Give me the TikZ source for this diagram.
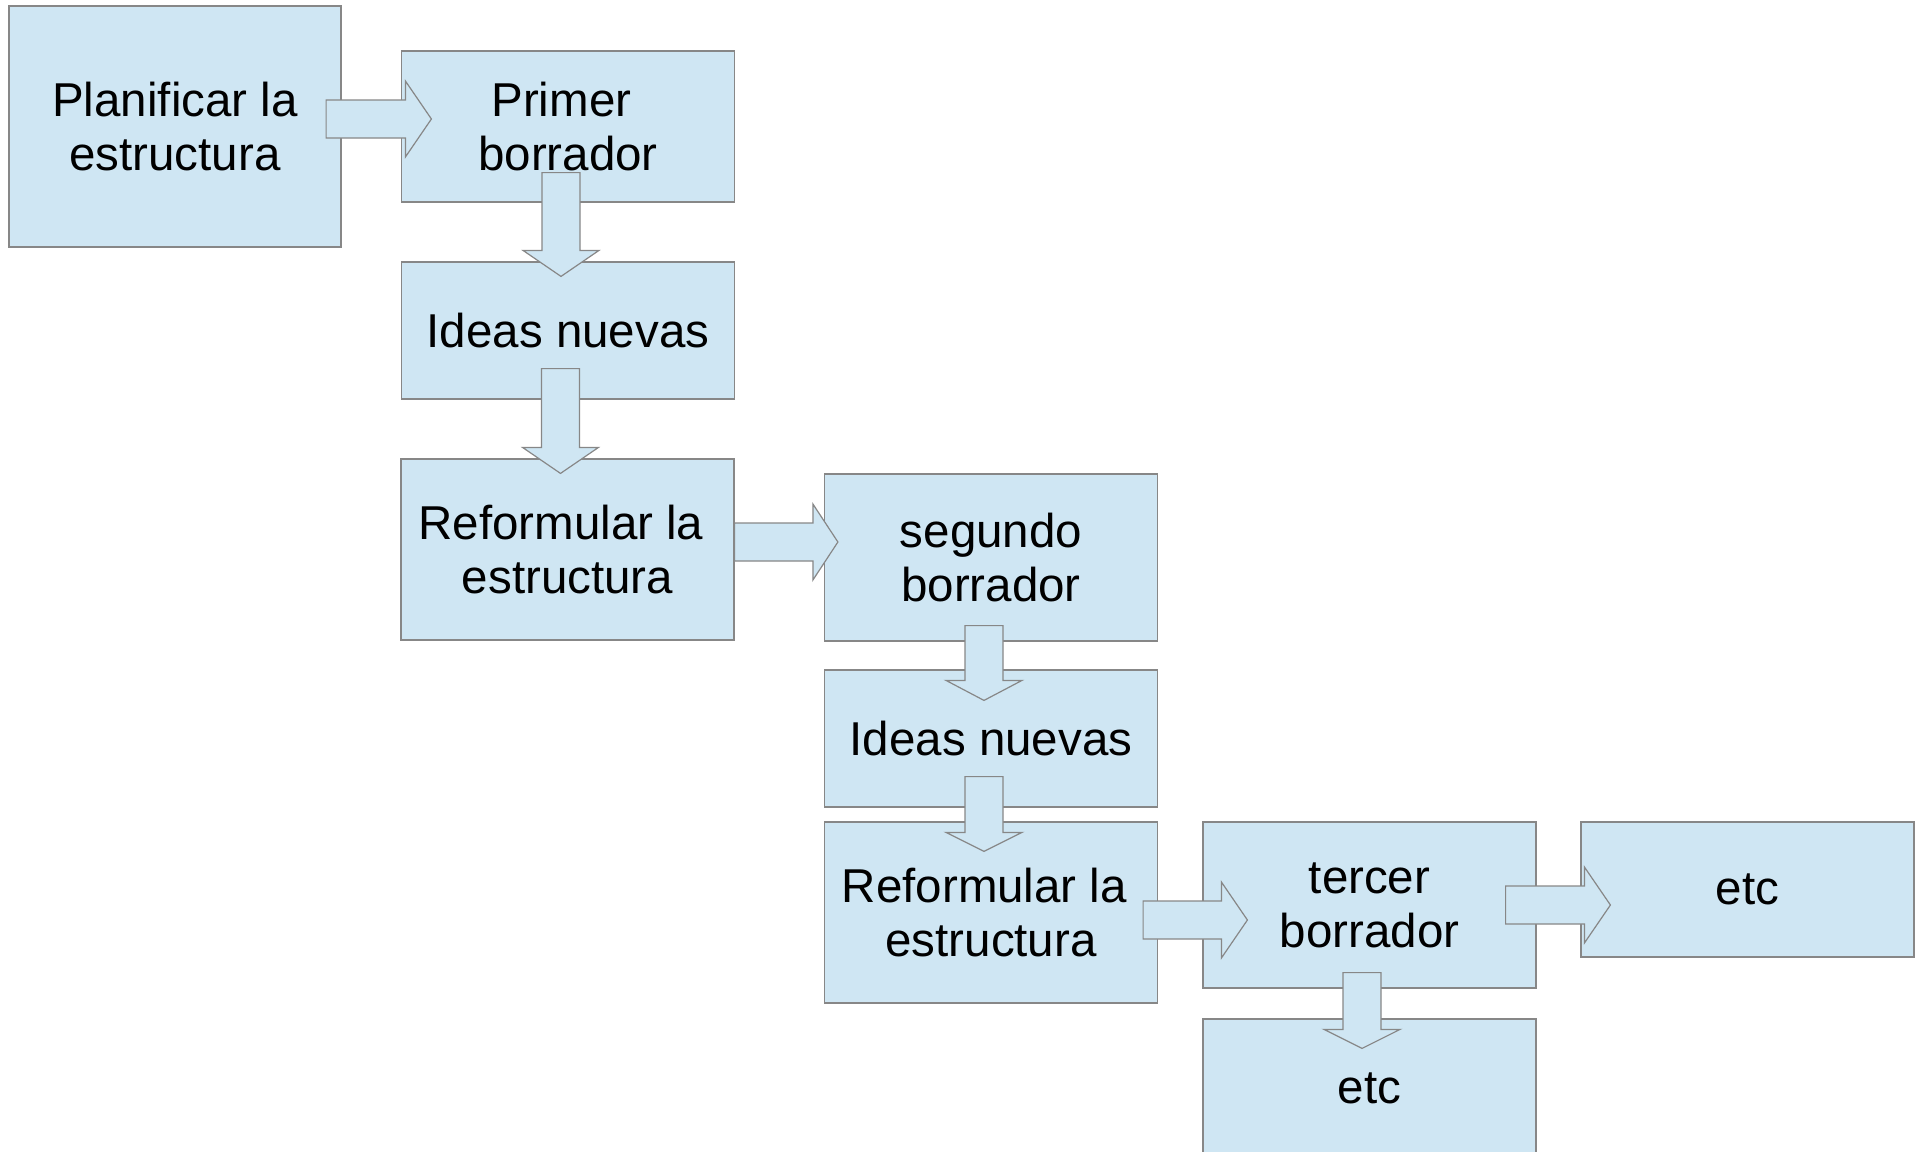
\documentclass[tikz,border=0pt]{standalone}
\usepackage{fontspec}
\setmainfont{Liberation Sans}
\usetikzlibrary{calc}
\definecolor{boxfill}{RGB}{207,230,243}
\definecolor{boxline}{RGB}{135,135,135}
\newcommand\tsp{\hspace*{0.278em}}
\tikzset{
  box/.style={draw=boxline, fill=boxfill, line width=1.2pt, rectangle,
    minimum width=333pt, inner sep=0pt, align=center,
    font=\fontsize{47.5}{54}\selectfont},
  blk/.style={draw=boxline, fill=boxfill, line width=1.2pt, line join=miter}
}
% right-pointing block arrow: start, tip, head length
\newcommand\blkR[3]{\draw[blk] let \p1=#1, \p2=#2 in
  (\x1,\y1+19) -- (\x2-#3,\y1+19) -- (\x2-#3,\y1+38) -- (\x2,\y1)
  -- (\x2-#3,\y1-38) -- (\x2-#3,\y1-19) -- (\x1,\y1-19) -- cycle;}
% down-pointing block arrow: start, tip, head length
\newcommand\blkD[3]{\draw[blk] let \p1=#1, \p2=#2 in
  (\x2-19,\y1) -- (\x2+19,\y1) -- (\x2+19,\y2+#3) -- (\x2+38,\y2+#3)
  -- (\x2,\y2) -- (\x2-38,\y2+#3) -- (\x2-19,\y2+#3) -- cycle;}
\begin{document}
\begin{tikzpicture}[x=1pt,y=-1pt]
\useasboundingbox (0,0) rectangle (1916,1151);
\node[box, minimum width=332pt, minimum height=241pt] (plan) at (175,126.5) {Planificar la\\estructura};
\node[box, minimum height=151pt] (primer) at (568,126.5) {Primer\tsp\\borrador};
\node[box, minimum height=137pt] (ideas1) at (568,330.5) {Ideas nuevas};
\node[box, minimum height=181pt] (ref1) at (567.5,549.5) {Reformular la\tsp\\estructura};
\node[box, minimum height=167pt] (seg) at (991,557.5) {segundo\\borrador};
\node[box, minimum height=137pt] (ideas2) at (991,738.5) {Ideas nuevas};
\node[box, minimum height=181pt] (ref2) at (991,912.5) {Reformular la\tsp\\estructura};
\node[box, minimum height=166pt] (ter) at (1369.5,905) {tercer\\borrador};
\node[box, minimum height=135pt] (etcA) at (1747.5,889.5) {etc};
\node[box, minimum height=138pt] (etcB) at (1369.5,1088) {etc};
% block arrows
\blkR{($(plan.east)+(-15.5,-7.5)$)}{($(primer.west)+(30.5,-7.5)$)}{26}
\blkD{($(primer.south)+(-7,-30)$)}{($(ideas1.north)+(-7,15)$)}{26}
\blkD{($(ideas1.south)+(-7,-31)$)}{($(ref1.north)+(-7,15)$)}{26}
\blkR{($(ref1.east)+(0,-7.5)$)}{($(seg.west)+(14,-7.5)$)}{25}
\blkD{($(seg.south)+(-7,-16)$)}{($(ideas2.north)+(-7,31)$)}{20}
\blkD{($(ideas2.south)+(-7,-31)$)}{($(ref2.north)+(-7,30)$)}{19}
\blkR{($(ref2.east)+(-15,7.5)$)}{($(ter.west)+(45,7.5)$)}{26}
\blkR{($(ter.east)+(-31,0)$)}{($(etcA.west)+(30,0)$)}{26}
\blkD{($(ter.south)+(-7.5,-16)$)}{($(etcB.north)+(-7.5,30)$)}{19}
\end{tikzpicture}
\end{document}
